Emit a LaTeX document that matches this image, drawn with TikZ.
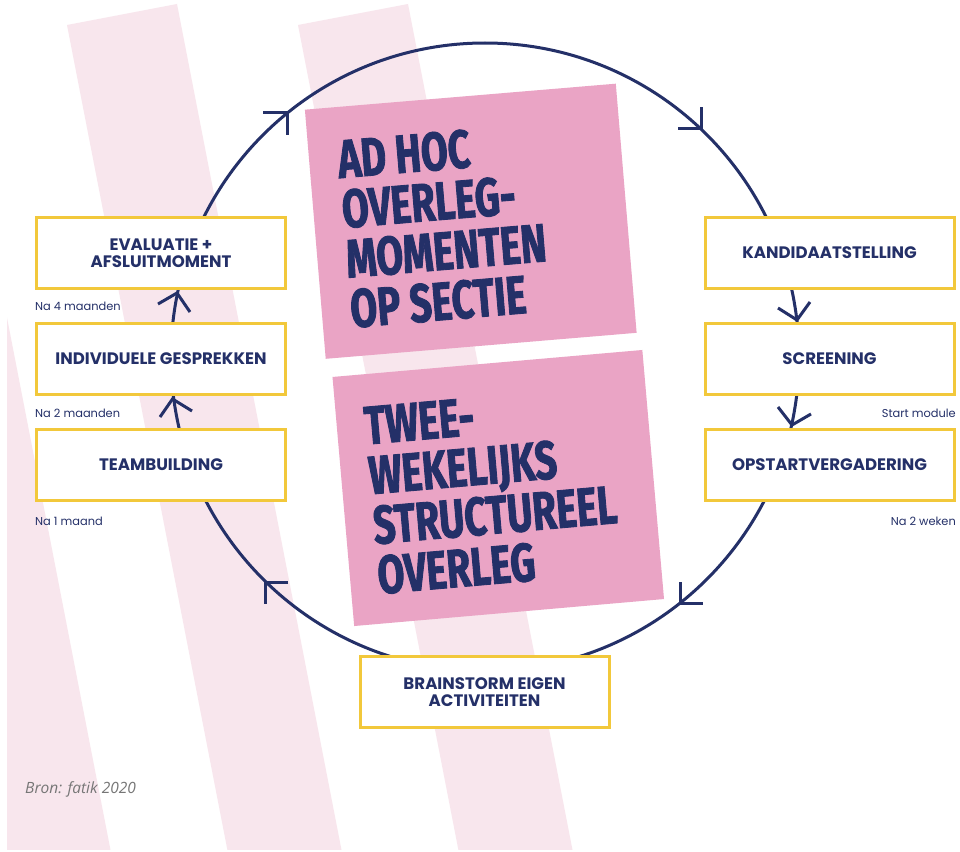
\documentclass[tikz,border=0pt]{standalone}
\usepackage{fontspec}
\setmainfont{Poppins}
\newfontfamily\bebas{Fira Sans}[FakeStretch=0.72, FakeBold=1.6]
\newfontfamily\opensans{Open Sans}
\definecolor{navy}{HTML}{243068}
\definecolor{stripe}{HTML}{F8E6ED}
\definecolor{pinkfill}{HTML}{EAA4C5}
\definecolor{gold}{HTML}{F2C83B}
\definecolor{graytext}{HTML}{767676}
\tikzset{
  ring/.style={draw=navy, line width=3pt},
  headmark/.style={draw=navy, line width=3pt, line join=miter},
  stepbox/.style={draw=gold, fill=white, line width=3pt, minimum width=249pt, minimum height=71pt,
    inner sep=0pt, align=center, text=navy, font=\bfseries\fontsize{16.6}{17.5}\selectfont},
  pinkbox/.style={fill=pinkfill, inner sep=0pt},
  bigtext/.style={text=navy, align=left, inner sep=0pt, font=\bebas\bfseries\fontsize{54}{50}\selectfont},
  note/.style={text=navy, inner sep=0pt, font=\fontsize{11.4}{13}\selectfont}
}
\begin{document}
\begin{tikzpicture}[x=1pt, y=-1pt]
\useasboundingbox (0,0) rectangle (960,851);
\fill[white] (0,0) rectangle (960,851);
% background stripes
\begin{scope}
  \clip (7,0) rectangle (953,849);
  \fill[stripe] (67,25) -- ++(110,-21) -- ++(175,900) -- ++(-110,21) -- cycle;
  \fill[stripe] (298,25) -- ++(110,-21) -- ++(175,900) -- ++(-110,21) -- cycle;
  \fill[stripe] (-164,25) -- ++(110,-21) -- ++(175,900) -- ++(-110,21) -- cycle;
\end{scope}
% cycle ring
\draw[ring] (485,357) circle[radius=314pt];
% pink boxes
\begin{scope}[shift={(470.75,221.25)}, rotate=4.78]
  \node[pinkbox, minimum width=312pt, minimum height=250pt, transform shape] (adhoc) at (0,0) {};
  \node[bigtext, anchor=north west, transform shape] (adhoctext) at (-127.5,-92.4)
    {AD HOC\\OVERLEG-\\MOMENTEN\\OP SECTIE};
\end{scope}
\begin{scope}[shift={(498.25,488)}, rotate=4.98]
  \node[pinkbox, minimum width=311pt, minimum height=250pt, transform shape] (twee) at (0,0) {};
  \node[bigtext, anchor=north west, transform shape] (tweetext) at (-128,-92.4)
    {TWEE-\\WEKELIJKS\\STRUCTUREEL\\OVERLEG};
\end{scope}
% step boxes
\node[stepbox] (eval) at (161,253) {EVALUATIE +\\AFSLUITMOMENT};
\node[stepbox] (indiv) at (161,359) {INDIVIDUELE GESPREKKEN};
\node[stepbox] (team) at (161,465) {TEAMBUILDING};
\node[stepbox] (kand) at (829.5,253) {KANDIDAATSTELLING};
\node[stepbox] (screen) at (829.5,359) {SCREENING};
\node[stepbox] (opstart) at (829.5,465) {OPSTARTVERGADERING};
\node[stepbox] (brain) at (484.5,692) {BRAINSTORM EIGEN\\ACTIVITEITEN};
% arrowheads on the ring
\draw[headmark] (263,112) -- (287,112) -- (287,135);
\draw[headmark] (701,107) -- (701,128) -- (678,128);
\draw[headmark] (680,582) -- (680,603) -- (703,603);
\draw[headmark] (288,582) -- (265,582) -- (265,604);
\draw[headmark] (158,304) -- (177,293) -- (190,312);
\draw[headmark] (160,417) -- (172.5,399) -- (192,411);
\draw[headmark] (778,308) -- (797,320) -- (810,302);
\draw[headmark] (778,407) -- (792,425) -- (811,414);
% timing notes
\node[note, anchor=base west] (n4) at (35,310) {Na 4 maanden};
\node[note, anchor=base west] (n2) at (35,417) {Na 2 maanden};
\node[note, anchor=base west] (n1) at (35,525) {Na 1 maand};
\node[note, anchor=base east] (sm) at (956,417) {Start module};
\node[note, anchor=base east] (w2) at (956,525) {Na 2 weken};
% source
\node[anchor=base west, inner sep=0pt, text=graytext, font=\opensans\itshape\fontsize{15.5}{18}\selectfont] (bron) at (25,793) {Bron: fatik 2020};
\end{tikzpicture}
\end{document}
